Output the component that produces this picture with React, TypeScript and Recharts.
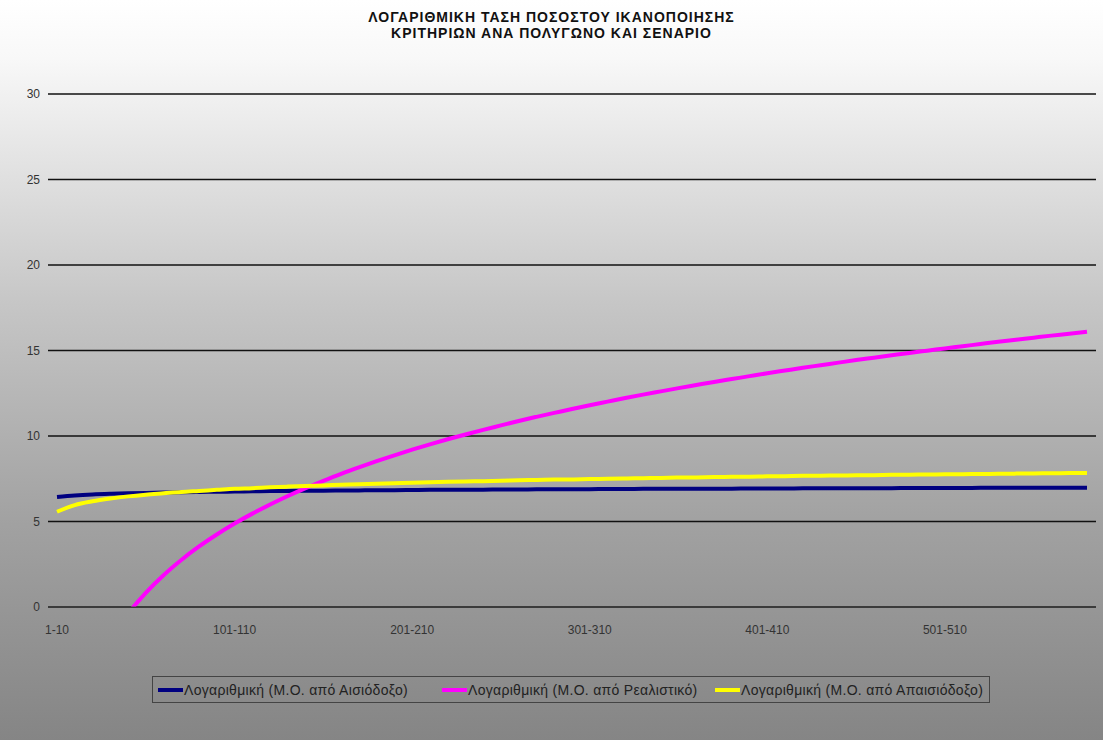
import React from 'react';
import { LineChart, Line, XAxis, YAxis, CartesianGrid } from 'recharts';

const categories: string[] = [
  '1-10', '11-20', '21-30', '31-40', '41-50', '51-60', '61-70', '71-80', '81-90', '91-100',
  '101-110', '111-120', '121-130', '131-140', '141-150', '151-160', '161-170', '171-180', '181-190', '191-200',
  '201-210', '211-220', '221-230', '231-240', '241-250', '251-260', '261-270', '271-280', '281-290', '291-300',
  '301-310', '311-320', '321-330', '331-340', '341-350', '351-360', '361-370', '371-380', '381-390', '391-400',
  '401-410', '411-420', '421-430', '431-440', '441-450', '451-460', '461-470', '471-480', '481-490', '491-500',
  '501-510', '511-520', '521-530', '531-540', '541-550', '551-560', '561-570', '571-580', '581-590',
];

const optimistic: number[] = [
  6.43, 6.52, 6.58, 6.62, 6.65, 6.67, 6.69, 6.71, 6.73, 6.74,
  6.75, 6.77, 6.78, 6.79, 6.80, 6.80, 6.81, 6.82, 6.83, 6.83,
  6.84, 6.85, 6.85, 6.86, 6.86, 6.87, 6.87, 6.88, 6.88, 6.89,
  6.89, 6.90, 6.90, 6.91, 6.91, 6.91, 6.92, 6.92, 6.92, 6.93,
  6.93, 6.93, 6.94, 6.94, 6.94, 6.95, 6.95, 6.95, 6.96, 6.96,
  6.96, 6.96, 6.97, 6.97, 6.97, 6.97, 6.98, 6.98, 6.98,
];

const realistic: number[] = [
  -11.14, -6.51, -3.80, -1.88, -0.39, 0.83, 1.86, 2.75, 3.54, 4.24,
  4.88, 5.46, 5.99, 6.49, 6.95, 7.38, 7.79, 8.17, 8.53, 8.87,
  9.20, 9.51, 9.81, 10.09, 10.36, 10.62, 10.88, 11.12, 11.35, 11.58,
  11.80, 12.01, 12.22, 12.42, 12.61, 12.80, 12.98, 13.16, 13.33, 13.50,
  13.67, 13.83, 13.99, 14.14, 14.29, 14.44, 14.58, 14.72, 14.86, 14.99,
  15.12, 15.25, 15.38, 15.51, 15.63, 15.75, 15.87, 15.98, 16.10,
];

const pessimistic: number[] = [
  5.57, 5.96, 6.18, 6.34, 6.47, 6.57, 6.65, 6.73, 6.79, 6.85,
  6.91, 6.95, 7.00, 7.04, 7.08, 7.11, 7.15, 7.18, 7.21, 7.24,
  7.27, 7.29, 7.32, 7.34, 7.36, 7.38, 7.41, 7.43, 7.45, 7.46,
  7.48, 7.50, 7.52, 7.53, 7.55, 7.57, 7.58, 7.60, 7.61, 7.62,
  7.64, 7.65, 7.67, 7.68, 7.69, 7.70, 7.71, 7.73, 7.74, 7.75,
  7.76, 7.77, 7.78, 7.79, 7.80, 7.81, 7.82, 7.83, 7.84,
];

const yTicks: number[] = [0, 5, 10, 15, 20, 25, 30];

const seriesNames = [
  'Λογαριθμική (Μ.Ο. από Αισιόδοξο)',
  'Λογαριθμική (Μ.Ο. από Ρεαλιστικό)',
  'Λογαριθμική (Μ.Ο. από Απαισιόδοξο)',
];
const seriesColors = ['#000080', '#ff00ff', '#ffff00'];
const legendOffsets = [5, 289, 562];

const data = categories.map((c, i) => ({
  cat: c,
  opt: optimistic[i],
  real: realistic[i],
  pess: pessimistic[i],
}));

const FONT = '"Liberation Sans", Arial, sans-serif';

const LegendBox = () => (
  <div
    style={{
      position: 'absolute',
      left: 152,
      top: 676,
      width: 838,
      height: 27,
      border: '1px solid #444',
      boxSizing: 'border-box',
      fontFamily: FONT,
      fontSize: 14,
      letterSpacing: 0.3,
      color: '#222',
    }}
  >
    {seriesNames.map((n, i) => (
      <div
        key={n}
        style={{
          position: 'absolute',
          left: legendOffsets[i],
          top: 0,
          height: 25,
          display: 'flex',
          alignItems: 'center',
          whiteSpace: 'nowrap',
        }}
      >
        <div style={{ width: 25, height: 4, background: seriesColors[i], marginRight: 1 }} />
        <span>{n}</span>
      </div>
    ))}
  </div>
);

export default function App() {
  return (
    <div
      style={{
        position: 'relative',
        width: 1103,
        height: 740,
        background:
          'linear-gradient(to bottom, #ffffff 0%, #f8f8f8 8%, #c6c6c6 41%, #a2a2a2 70%, #858585 100%)',
        fontFamily: FONT,
        overflow: 'hidden',
      }}
    >
      <style>{`body{margin:0}`}</style>
      <div
        style={{
          position: 'absolute',
          top: 9,
          left: 0,
          width: 1103,
          textAlign: 'center',
          fontWeight: 'bold',
          fontSize: 14,
          letterSpacing: 1,
          lineHeight: '16px',
          color: '#111',
        }}
      >
        ΛΟΓΑΡΙΘΜΙΚΗ ΤΑΣΗ ΠΟΣΟΣΤΟΥ ΙΚΑΝΟΠΟΙΗΣΗΣ
        <br />
        ΚΡΙΤΗΡΙΩΝ ΑΝΑ ΠΟΛΥΓΩΝΟ ΚΑΙ ΣΕΝΑΡΙΟ
      </div>
      <LineChart
        width={1103}
        height={740}
        data={data}
        margin={{ top: 94, right: 7, bottom: 103, left: 0 }}
        style={{ position: 'absolute', top: 0, left: 0 }}
      >
        <CartesianGrid horizontal vertical={false} stroke="#111" strokeWidth={1.6} />
        <XAxis
          dataKey="cat"
          interval={9}
          height={30}
          tickLine={false}
          tickMargin={12}
          padding={{ left: 9, right: 9 }}
          axisLine={{ stroke: '#444', strokeWidth: 1 }}
          tick={{ fontSize: 12, fill: '#333', fontFamily: FONT }}
        />
        <YAxis
          domain={[0, 30]}
          ticks={yTicks}
          allowDataOverflow
          width={48}
          axisLine={false}
          tickLine={false}
          tick={{ fontSize: 12, fill: '#333', fontFamily: FONT }}
        />
        <Line dataKey="opt" name={seriesNames[0]} stroke={seriesColors[0]} strokeWidth={4} dot={false} isAnimationActive={false} type="monotone" />
        <Line dataKey="real" name={seriesNames[1]} stroke={seriesColors[1]} strokeWidth={4} dot={false} isAnimationActive={false} type="monotone" />
        <Line dataKey="pess" name={seriesNames[2]} stroke={seriesColors[2]} strokeWidth={4} dot={false} isAnimationActive={false} type="monotone" />
      </LineChart>
      <LegendBox />
    </div>
  );
}
